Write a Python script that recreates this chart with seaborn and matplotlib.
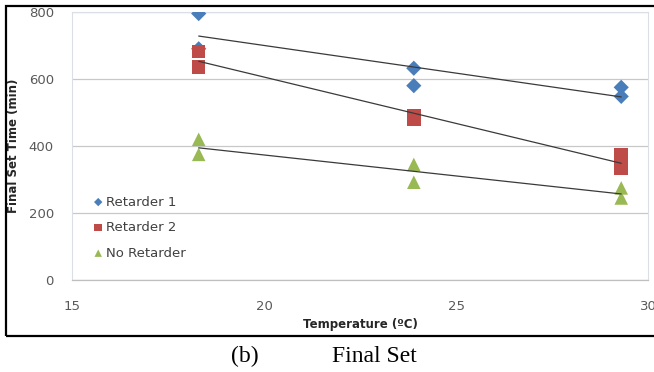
import numpy as np
import pandas as pd
import matplotlib
matplotlib.use("Agg")
import matplotlib.pyplot as plt
from matplotlib.patches import Rectangle
import seaborn as sns

# Curing temperature (°C) for each specimen
temp_r1 = [18.3, 18.3, 23.9, 23.9, 29.3, 29.3]
temp_r2 = [18.3, 18.3, 23.9, 23.9, 29.3, 29.3]
temp_nr = [18.3, 18.3, 23.9, 23.9, 29.3, 29.3]

# Final set time (min)
set_r1 = [795, 690, 632, 580, 575, 548]
set_r2 = [682, 636, 490, 480, 375, 335]
set_nr = [420, 375, 345, 292, 275, 245]

series_names = ["Retarder 1", "Retarder 2", "No Retarder"]
x_ticks = [15, 20, 25, 30]
y_ticks = [0, 200, 400, 600, 800]

colors = {"Retarder 1": "#4A7EBB", "Retarder 2": "#BE4B48", "No Retarder": "#98B954"}
markers = {"Retarder 1": "D", "Retarder 2": "s", "No Retarder": "^"}
sizes = {"Retarder 1": 60, "Retarder 2": 95, "No Retarder": 95}

df = pd.concat([
    pd.DataFrame({"Temperature": temp_r1, "Final Set": set_r1, "Mix": series_names[0]}),
    pd.DataFrame({"Temperature": temp_r2, "Final Set": set_r2, "Mix": series_names[1]}),
    pd.DataFrame({"Temperature": temp_nr, "Final Set": set_nr, "Mix": series_names[2]}),
], ignore_index=True)

sns.set_theme(style="white")
plt.rcParams["font.family"] = ["DejaVu Sans"]

fig = plt.figure(figsize=(6.54, 3.72), dpi=100)
ax = fig.add_axes([0.110, 0.247, 0.881, 0.721])

for name in series_names:
    sub = df[df["Mix"] == name]
    sns.scatterplot(data=sub, x="Temperature", y="Final Set", ax=ax,
                    color=colors[name], marker=markers[name], s=sizes[name],
                    edgecolor="none", label=name, zorder=3)

# Linear trend line for each mix
for name in series_names:
    sub = df[df["Mix"] == name]
    sns.regplot(data=sub, x="Temperature", y="Final Set", ax=ax, scatter=False,
                ci=None, truncate=True,
                line_kws=dict(color="#3a3a3a", lw=0.9, zorder=4))

ax.set_xlim(15, 30)
ax.set_ylim(0, 800)
ax.set_xticks(x_ticks)
ax.set_yticks(y_ticks)
ax.tick_params(axis="x", length=0, pad=14, labelsize=9.5, labelcolor="#595959")
ax.tick_params(axis="y", length=0, pad=13, labelsize=9.5, labelcolor="#595959")
ax.yaxis.grid(True, color="#C8C8C8", lw=0.9)
ax.xaxis.grid(False)
for side in ["left", "top", "right"]:
    ax.spines[side].set_color("#DADFE6")
    ax.spines[side].set_linewidth(0.8)
ax.spines["bottom"].set_color("#BFBFBF")
ax.spines["bottom"].set_linewidth(0.9)

ax.set_xlabel("Temperature (ºC)", fontsize=8.5, fontweight="bold", color="#262626", labelpad=4)
ax.set_ylabel("Final Set Time (min)", fontsize=8.5, fontweight="bold", color="#262626", labelpad=6)

leg = ax.legend(loc="upper left", bbox_to_anchor=(0.025, 0.335), frameon=False,
                fontsize=9.5, labelcolor="#404040", handletextpad=0.1,
                labelspacing=0.95, markerscale=0.55, handlelength=1.0,
                borderaxespad=0)

# Outer frame around the chart
fig.patches.append(Rectangle((6 / 654, 1 - 336 / 372), 1.2, 330 / 372,
                             transform=fig.transFigure, fill=False,
                             edgecolor="black", lw=1.6, zorder=10))

fig.text(245 / 654, 1 - 356 / 372, "(b)", ha="center", va="center",
         fontsize=17, family="Liberation Serif", color="black")
fig.text(374 / 654, 1 - 356 / 372, "Final Set", ha="center", va="center",
         fontsize=17, family="Liberation Serif", color="black")

fig.savefig("out.png", dpi=100)
